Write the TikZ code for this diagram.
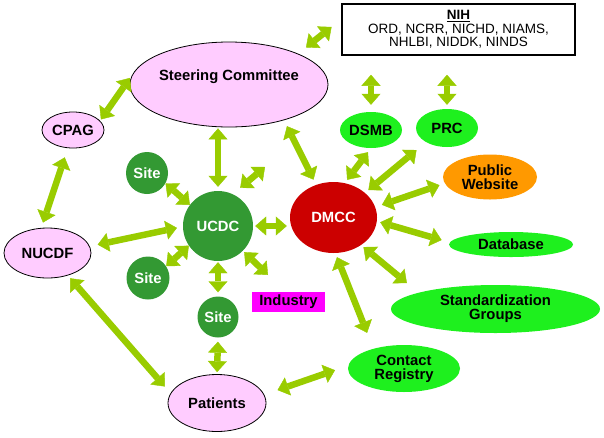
\documentclass[tikz,border=0pt]{standalone}
\usepackage{fontspec}
\setmainfont{Liberation Sans}
\usetikzlibrary{arrows.meta,shapes.geometric}
\definecolor{arrowgreen}{RGB}{153,204,0}
\definecolor{pinkfill}{RGB}{255,204,255}
\definecolor{darkgreen}{RGB}{51,153,51}
\definecolor{dmccred}{RGB}{204,0,0}
\definecolor{brightgreen}{RGB}{30,240,30}
\definecolor{orangefill}{RGB}{255,153,0}
\definecolor{magentafill}{RGB}{255,0,255}
\begin{document}
\begin{tikzpicture}[x=1pt,y=-1pt,
  lbl/.style={font=\fontsize{14.8}{14}\selectfont\bfseries, align=center, inner sep=0pt},
  pinkell/.style={lbl, ellipse, draw=black, line width=0.8pt, fill=pinkfill},
  greenell/.style={lbl, ellipse, fill=brightgreen},
  sitecirc/.style={lbl, circle, fill=darkgreen, text=white},
  arr/.style={draw=arrowgreen, line width=6.5pt,
    {Triangle[length=11pt,width=19pt,line width=0.4pt]}-{Triangle[length=11pt,width=19pt,line width=0.4pt]}}
]
\useasboundingbox (0,0) rectangle (604,437);

% nodes
\node[lbl, rectangle, draw=black, line width=1.5pt, minimum width=233pt, minimum height=51pt,
      font=\fontsize{13.5}{13.5}\selectfont] (nih) at (458.5,29.5)
      {\textbf{\underline{NIH}}\\ORD, NCRR, NICHD, NIAMS,\\NHLBI, NIDDK, NINDS};
\node[pinkell, minimum width=198pt, minimum height=85pt] (steer) at (229,84.5)
      {\raisebox{4pt}[0pt][0pt]{Steering Committee}};
\node[pinkell, minimum width=62pt, minimum height=36pt] (cpag) at (73,130) {CPAG};
\node[pinkell, minimum width=87pt, minimum height=50pt] (nucdf) at (47.5,253) {NUCDF};
\node[pinkell, minimum width=98pt, minimum height=57pt] (patients) at (217,403) {Patients};
\node[sitecirc, minimum size=42pt] (site1) at (147,173) {Site};
\node[sitecirc, minimum size=43pt] (site2) at (148,278) {Site};
\node[sitecirc, minimum size=41pt] (site3) at (218,317) {Site};
\node[sitecirc, minimum size=70pt] (ucdc) at (218,226) {UCDC};
\node[lbl, ellipse, fill=dmccred, text=white, minimum width=87pt, minimum height=71pt] (dmcc) at (333.5,217.5) {DMCC};
\node[greenell, minimum width=62pt, minimum height=36pt] (dsmb) at (371,130) {DSMB};
\node[greenell, minimum width=62pt, minimum height=38pt] (prc) at (447,128) {PRC};
\node[lbl, ellipse, fill=orangefill, minimum width=94pt, minimum height=45pt] (pw) at (490,177) {Public\\Website};
\node[greenell, minimum width=124pt, minimum height=25pt] (db) at (511,244.5) {Database};
\node[greenell, minimum width=209pt, minimum height=48pt] (std) at (495.5,309) {Standardization\\Groups};
\node[greenell, minimum width=112pt, minimum height=47pt] (contact) at (404,368.5) {Contact\\Registry};
\node[lbl, rectangle, fill=magentafill, minimum width=73pt, minimum height=20pt] (industry) at (288.5,302) {Industry};

\coordinate (f1) at (265,167);
\coordinate (f2) at (268,275);

% connectors
\draw[arr, shorten <=10pt, shorten >=12.4pt] (steer.24) -- (nih.175.6);
\draw[arr, shorten <=19pt, shorten >=7pt] (dsmb.north |- nih.south) -- (dsmb.north);
\draw[arr, shorten <=19pt, shorten >=4pt] (prc.north |- nih.south) -- (prc.north);
\draw[arr, shorten <=1.5pt, shorten >=10pt] (cpag.19) -- (steer.171);
\draw[arr, shorten <=9.7pt, shorten >=5.6pt] (cpag.254.6) -- (nucdf.104.3);
\draw[arr, shorten <=8pt, shorten >=6pt] (nucdf.9) -- (ucdc.181);
\draw[arr] (site1.-29) -- (ucdc.143);
\draw[arr, shorten <=1pt, shorten >=4pt] (ucdc.north |- steer.south) -- (ucdc.north);
\draw[arr, shorten <=9.6pt] (ucdc.65) -- (f1);
\draw[arr, shorten <=6.6pt, shorten >=5.7pt] (steer.-33.3) -- (dmcc.118.9);
\draw[arr, shorten <=2pt, shorten >=3pt] (ucdc.east) -- (ucdc.east -| dmcc.west);
\draw[arr] (site2.33) -- (ucdc.214);
\draw[arr, shorten <=1pt, shorten >=4pt] (ucdc.south) -- (site3.north);
\draw[arr, shorten <=1.8pt] (ucdc.-45) -- (f2);
\draw[arr, shorten <=4pt, shorten >=2pt] (site3.south) -- (patients.north);
\draw[arr, shorten <=3.6pt, shorten >=8.8pt] (nucdf.-48) -- (patients.168.5);
\draw[arr, shorten <=14pt, shorten >=14pt] (patients.10) -- (contact.177);
\draw[arr, shorten <=4.3pt, shorten >=17pt] (dmcc.-87) -- (contact.147.3);
\draw[arr, shorten <=3pt, shorten >=15pt] (dmcc.-45) -- (std.168);
\draw[arr, shorten <=3.4pt, shorten >=8.4pt] (dmcc.-5) -- (db.178);
\draw[arr, shorten <=7pt, shorten >=5.5pt] (dmcc.14) -- (pw.188.5);
\draw[arr, shorten <=4.3pt, shorten >=12.3pt] (dmcc.38.5) -- (prc.214.8);
\draw[arr, shorten <=4pt, shorten >=5pt] (dmcc.72) -- (dsmb.270);
\end{tikzpicture}
\end{document}
